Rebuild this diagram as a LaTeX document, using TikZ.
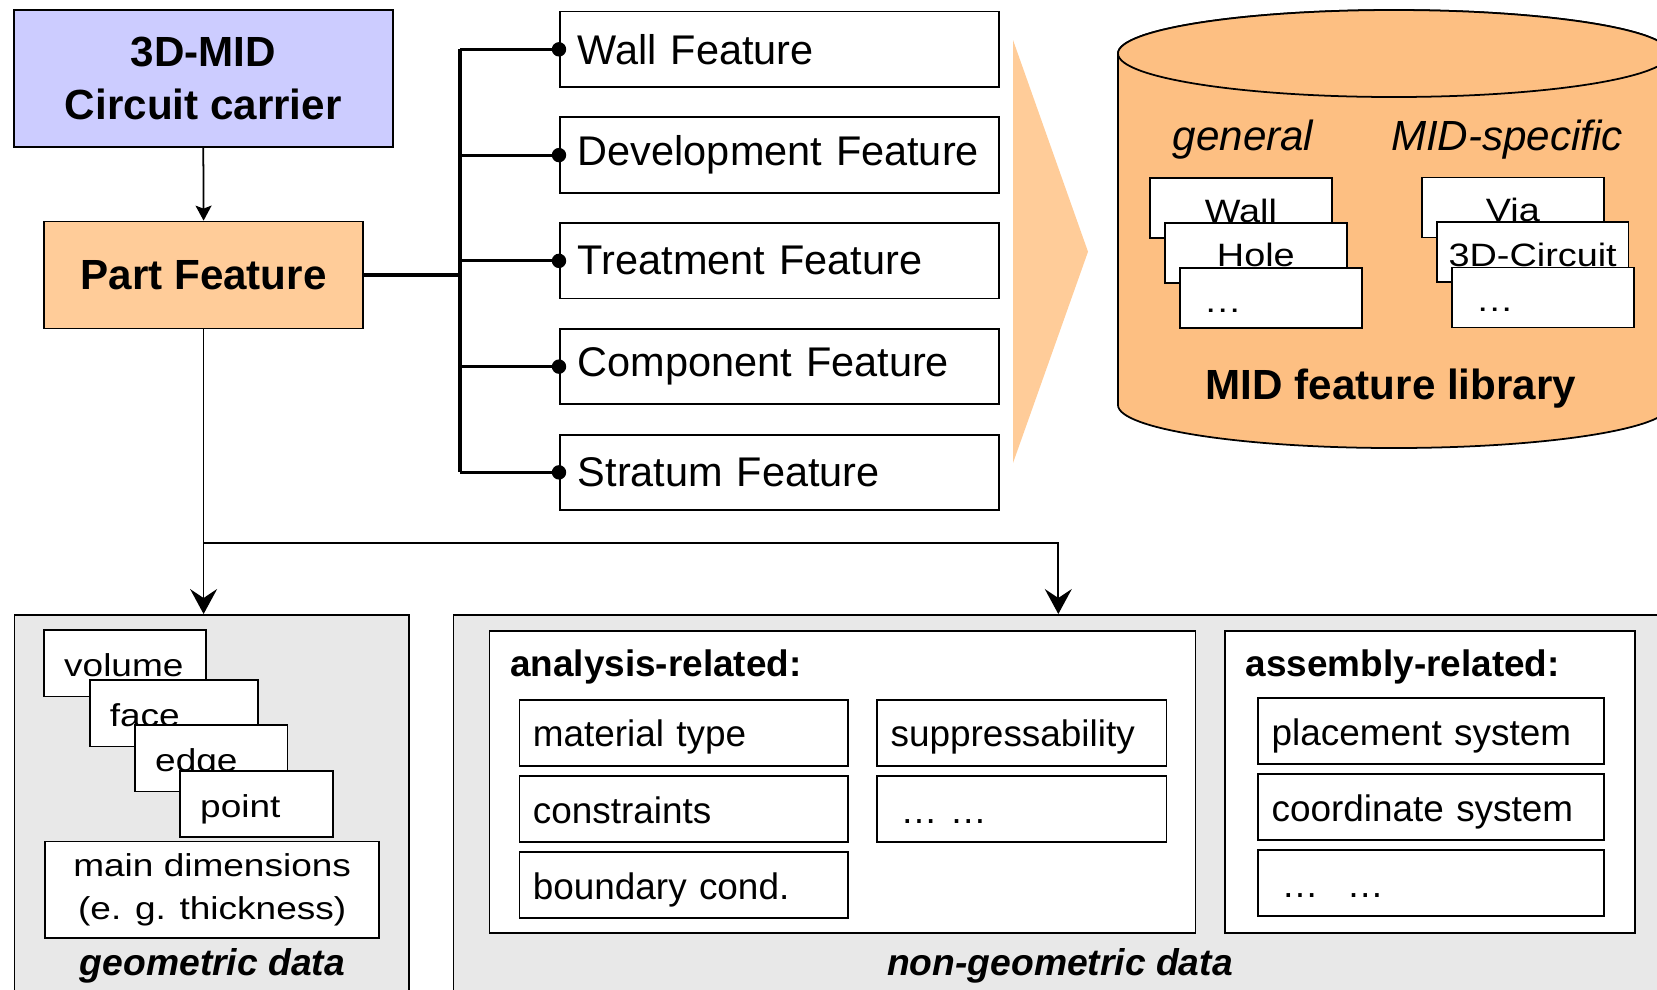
\documentclass[tikz,border=0pt]{standalone}
\usepackage{fontspec}
\setmainfont{Liberation Sans}
\newfontfamily\widesans{Liberation Sans}[FakeStretch=1.17]
\usetikzlibrary{arrows.meta,positioning}

\definecolor{carrierblue}{HTML}{CCCCFF}
\definecolor{partorange}{HTML}{FFCC99}
\definecolor{arroworange}{HTML}{FFCC99}
\definecolor{libraryorange}{HTML}{FDBF82}
\definecolor{datagray}{HTML}{E8E8E8}

\begin{document}
\begin{tikzpicture}[line width=0.5pt, node distance=0.285cm,
    carrier/.style={draw, fill=carrierblue, align=center,
      font=\bfseries\fontsize{12}{15.2}\selectfont,
      minimum width=3.79cm, minimum height=1.37cm},
    partbox/.style={draw, fill=partorange, font=\bfseries\fontsize{12}{14}\selectfont,
      minimum width=3.19cm, minimum height=1.07cm},
    feature/.style={draw, fill=white, font=\fontsize{11.8}{14}\selectfont,
      align=left, text width=4.028cm, inner xsep=0.18cm, minimum height=0.755cm},
    libitem/.style={draw, fill=white, anchor=north west,
      font=\widesans\fontsize{9.2}{11}\selectfont, text height=8pt, text depth=0pt,
      minimum width=1.82cm, minimum height=0.6cm},
    libdots/.style={libitem, align=left, text width=1.34cm, inner xsep=0.24cm},
    facet/.style={draw, fill=white, anchor=north west,
      font=\widesans\fontsize{9}{10.4}\selectfont, text height=7.6pt, text depth=0pt,
      align=left, text width=#1, inner xsep=0.2cm, minimum height=0.664cm},
    dimbox/.style={draw, fill=white, anchor=north west, align=center,
      font=\widesans\fontsize{9}{12.3}\selectfont,
      minimum width=3.34cm, minimum height=0.926cm},
    entry/.style={draw, fill=white, anchor=north west, font=\fontsize{10.5}{12.6}\selectfont,
      text height=8pt, text depth=0pt,
      align=left, text width=#1, inner xsep=0.135cm, minimum height=0.66cm},
    group/.style={draw, fill=white, anchor=north west, minimum width=#1, minimum height=3.02cm},
    grouptitle/.style={anchor=west, inner xsep=0pt, font=\bfseries\fontsize{10.5}{12.6}\selectfont},
    databox/.style={draw, fill=datagray, anchor=north west, minimum width=#1, minimum height=4.4cm},
    datalabel/.style={font=\bfseries\itshape\fontsize{10.6}{12.7}\selectfont},
    bus/.style={line width=0.9pt},
    link/.style={-{Stealth[length=1.5mm,width=1.6mm,inset=0.3mm]}},
    datalink/.style={-{Stealth[length=2.5mm,width=2.7mm,inset=0.9mm]}}]

  \useasboundingbox (0,0) rectangle (16.57,-9.89);

  \node[carrier] (carrier) at (2.033,-0.783) {3D-MID\\Circuit carrier};
  \node[partbox] (part) at (2.036,-2.75) {Part Feature};
  \draw[link] (carrier.south) -- (part.north);

  \node[feature, anchor=north west] (wall) at (5.59,-0.107) {Wall Feature};
  \node[feature, below=of wall] (devel) {Development Feature};
  \node[feature, below=of devel] (treat) {Treatment Feature};
  \node[feature, below=of treat] (comp) {Component Feature};
  \node[feature, below=of comp] (stratum) {Stratum Feature};

  \coordinate (bus) at (4.60,0);
  \draw[bus] (part.east) -- (part.east -| bus);
  \draw[bus] (wall.west -| bus) -- (stratum.west -| bus);
  \foreach \f in {wall,devel,treat,comp,stratum}
  {
    \draw[bus] (\f.west -| bus) -- (\f.west);
    \fill (\f.west) circle (0.072);
  }

  \fill[arroworange] (10.13,-0.40) -- (10.88,-2.517) -- (10.13,-4.63) -- cycle;

  \draw[fill=libraryorange] (11.18,-0.535) -- (11.18,-4.05)
    arc[start angle=180, end angle=360, x radius=2.76, y radius=0.43]
    -- (16.70,-0.535)
    arc[start angle=0, end angle=180, x radius=2.76, y radius=0.435];
  \draw[fill=libraryorange] (13.94,-0.535) ellipse [x radius=2.76, y radius=0.435];

  \node[font=\itshape\fontsize{12}{14}\selectfont] (general) at (12.43,-1.40) {general};
  \node[font=\itshape\fontsize{12}{14}\selectfont] (specific) at (15.07,-1.40) {MID-specific};

  \node[libitem] (libwall) at (11.49,-1.773) {Wall};
  \node[libitem] (libhole) at ([shift={(0.15,-0.445)}]libwall.north west) {Hole};
  \node[libdots] (libmore) at ([shift={(0.15,-0.455)}]libhole.north west) {…};
  \node[libitem] (libvia) at (14.21,-1.767) {Via};
  \node[libitem] (libcircuit) at ([shift={(0.15,-0.445)}]libvia.north west) {3D-Circuit};
  \node[libdots] (libmid) at ([shift={(0.15,-0.455)}]libcircuit.north west) {…};

  \node[font=\bfseries\fontsize{12}{14}\selectfont] (library) at (13.91,-3.89) {MID feature library};

  \node[databox=3.946cm] (geo) at (0.137,-6.14) {};
  \node[databox=12.3cm] (nongeo) at (4.527,-6.14) {};
  \node[datalabel] (geolabel) at (2.125,-9.66) {geometric data};
  \node[datalabel] (nongeolabel) at (10.6,-9.66) {non-geometric data};

  \coordinate (drop) at (10.583,-5.427);
  \draw[datalink] (part.south) -- (part.south |- geo.north);
  \draw[datalink] (part.south |- drop) -- (drop) -- (drop |- nongeo.north);

  \node[facet=1.217cm] (volume) at (0.433,-6.293) {volume};
  \node[facet=1.283cm] (face) at (0.89,-6.793) {face};
  \node[facet=1.124cm] (edge) at (1.343,-7.243) {edge};
  \node[facet=1.13cm] (point) at (1.793,-7.70) {point};
  \node[dimbox] (dims) at (0.443,-8.407) {main dimensions\\(e. g. thickness)};

  \node[group=7.062cm] (analysis) at (4.885,-6.30) {};
  \node[grouptitle] (analysistitle) at (5.093,-6.665) {analysis-related:};
  \node[entry=3.017cm] (material) at (5.185,-6.99) {material type};
  \node[entry=3.017cm, below=0.083cm of material] (constraints) {constraints};
  \node[entry=3.017cm, below=0.083cm of constraints] (boundary) {boundary cond.};
  \node[entry=2.623cm] (suppress) at (8.763,-6.99) {suppressability};
  \node[entry=2.623cm, below=0.083cm of suppress] (analysismore) {\hspace*{1mm}… …};

  \node[group=4.097cm] (assembly) at (12.243,-6.30) {};
  \node[grouptitle] (assemblytitle) at (12.45,-6.665) {assembly-related:};
  \node[entry=3.19cm] (placement) at (12.573,-6.973) {placement system};
  \node[entry=3.19cm, below=0.083cm of placement] (coordinate) {coordinate system};
  \node[entry=3.19cm, below=0.083cm of coordinate] (assemblymore) {\hspace*{1mm}… \hspace{1.6mm}…};
\end{tikzpicture}
\end{document}
